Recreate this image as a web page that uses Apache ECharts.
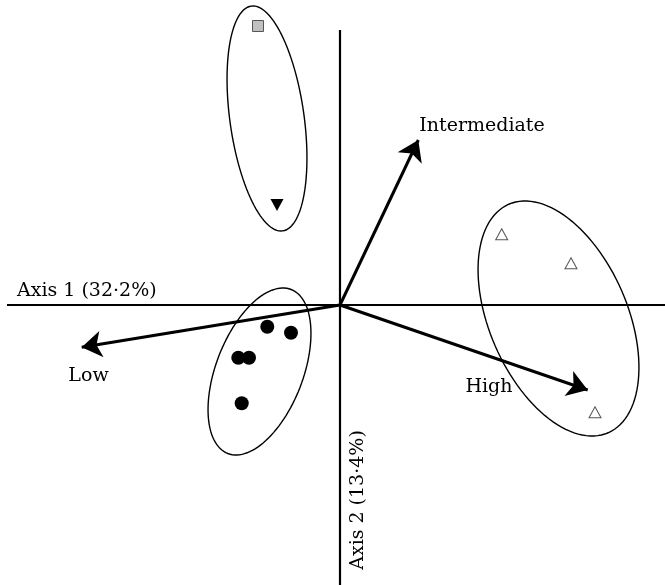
<!DOCTYPE html>
<html>
<head>
<meta charset="utf-8">
<script src="https://cdn.jsdelivr.net/npm/echarts@6/dist/echarts.min.js"></script>
<style>
  html, body { margin: 0; padding: 0; background: #fff; }
  #chart { width: 665px; height: 585px; }
</style>
</head>
<body>
<div id="chart"></div>
<script>
// ordination scores (axis 1, axis 2)
const circles = [[-7.27, -2.17], [-4.9, -2.77], [-10.17, -5.27], [-9.1, -5.27], [-9.83, -9.83]];
const openTriangles = [[16.17, 7.07], [23.1, 4.17], [25.5, -10.73]];
const squares = [[-8.2, 27.9]];
const downTriangles = [[-6.3, 10.0]];

// environmental vectors
const arrowNames = ['Low', 'Intermediate', 'High'];
const arrowTips = [[-25.83, -4.23], [7.83, 16.5], [24.77, -8.5]];
const arrowLabelPos = [[-25.15, -7.1], [14.2, 17.9], [14.9, -8.2]];

// axis titles
const axisNames = ['Axis 1 (32·2%)', 'Axis 2 (13·4%)'];

// group ellipses: centre x, centre y, semi-major, semi-minor, angle (deg)
const ellipses = [
  [-7.3, 18.65, 11.35, 3.71, 97.95],
  [-8.05, -6.65, 8.79, 4.35, 68.9],
  [21.85, -1.35, 12.46, 6.9, 113.5]
];

const font = 'DejaVu Serif';
const chart = echarts.init(document.getElementById('chart'));

chart.setOption({
  animation: false,
  grid: { left: 0, right: 0, top: 0, bottom: 0 },
  xAxis: { type: 'value', min: -34, max: 32.5, show: false },
  yAxis: { type: 'value', min: -28, max: 30.5, show: false },
  series: [
    {
      // the two ordination axes
      type: 'lines',
      coordinateSystem: 'cartesian2d',
      symbol: 'none',
      lineStyle: { color: '#000', width: 2.2, opacity: 1 },
      data: [
        { coords: [[-33.3, 0], [32.5, 0]] },
        { coords: [[0, 27.5], [0, -28]] }
      ],
      z: 1
    },
    {
      type: 'custom',
      renderItem: function (params, api) {
        const cx = api.value(0), cy = api.value(1);
        const a = api.value(2), b = api.value(3);
        const t = api.value(4) * Math.PI / 180;
        const pts = [];
        for (let i = 0; i < 120; i++) {
          const u = i / 120 * Math.PI * 2;
          const ex = a * Math.cos(u), ey = b * Math.sin(u);
          pts.push(api.coord([cx + ex * Math.cos(t) - ey * Math.sin(t),
                              cy + ex * Math.sin(t) + ey * Math.cos(t)]));
        }
        return {
          type: 'polygon',
          shape: { points: pts },
          style: { fill: 'none', stroke: '#000', lineWidth: 1.4 }
        };
      },
      data: ellipses,
      z: 2
    },
    {
      type: 'lines',
      coordinateSystem: 'cartesian2d',
      symbol: ['none', 'arrow'],
      symbolSize: 20,
      lineStyle: { color: '#000', width: 3, opacity: 1 },
      data: arrowTips.map(function (p) { return { coords: [[0, 0], p] }; }),
      z: 3
    },
    {
      type: 'scatter',
      symbol: 'circle',
      symbolSize: 14,
      itemStyle: { color: '#000', opacity: 1 },
      data: circles,
      z: 4
    },
    {
      type: 'scatter',
      symbol: 'triangle',
      symbolSize: [12, 11],
      itemStyle: { color: '#fff', borderColor: '#555', borderWidth: 1, opacity: 1 },
      data: openTriangles,
      z: 4
    },
    {
      type: 'scatter',
      symbol: 'rect',
      symbolSize: 11,
      itemStyle: { color: '#c0c0c0', borderColor: '#555', borderWidth: 1, opacity: 1 },
      data: squares,
      z: 4
    },
    {
      type: 'scatter',
      symbol: 'triangle',
      symbolRotate: 180,
      symbolSize: [13, 12],
      itemStyle: { color: '#000', opacity: 1 },
      data: downTriangles,
      z: 4
    },
    {
      // text labels
      type: 'scatter',
      symbolSize: 0,
      silent: true,
      itemStyle: { opacity: 1 },
      label: {
        show: true,
        position: 'inside',
        formatter: '{b}',
        color: '#000',
        fontFamily: font,
        fontSize: 19
      },
      data: arrowNames.map(function (n, i) {
        return { name: n, value: arrowLabelPos[i] };
      }).concat([
        { name: axisNames[0], value: [-32.3, 1.35], label: { align: 'left' } },
        { name: axisNames[1], value: [1.8, -19.5], label: { rotate: 90 } }
      ]),
      z: 5
    }
  ]
});
</script>
</body>
</html>
